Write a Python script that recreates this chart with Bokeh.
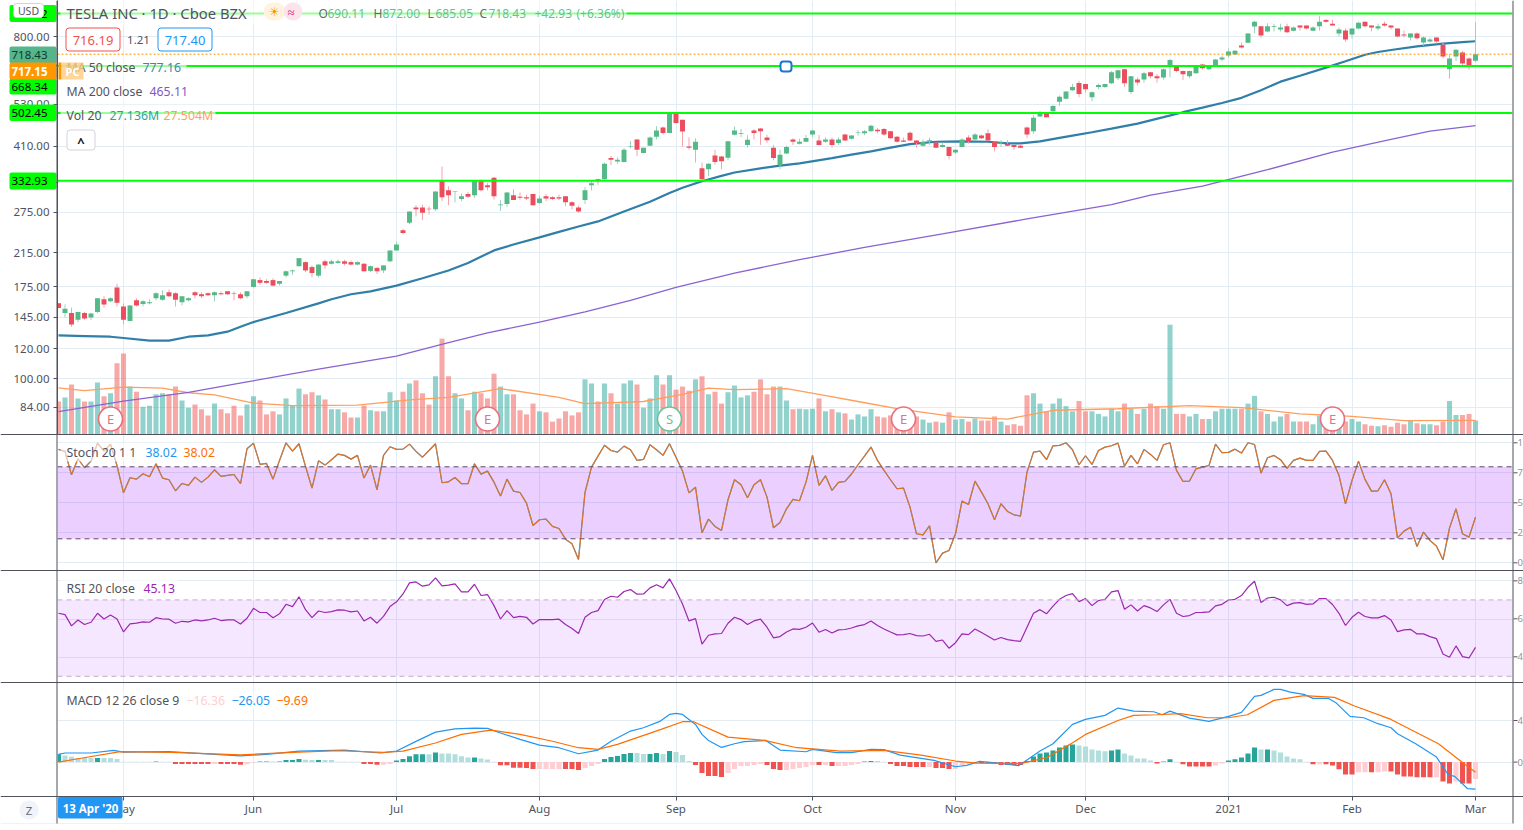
from bokeh.plotting import figure
from bokeh.layouts import column
from bokeh.embed import file_html
from bokeh.resources import INLINE
from bokeh.models import (Range1d, LinearScale, FixedTicker, Grid, LinearAxis, LogAxis, Span, Label,
                          BoxAnnotation, ColumnDataSource, NumeralTickFormatter)
from bokeh.core.properties import value

FONT = "Noto Sans"
first_bar = 4

open_ = [158,149,149,143,149,145,150,162,160,174,
 155,142,161,157.5,158,163,161.5,169,168,159,
 161,169,167,168,166,168,170,168,167,165,
 174.5,182,181,182,178,187,192,198,203,197,
 187,204,201,202,204,203,200,201,192.5,196,
 193,204,218,246.5,258,283,283,281,280,334,
 314,311,298,307,305,332,324,339,287,289,
 305,302,301,307,291,303,301,301,303,292,
 283,296,324,336,336,382,374,373,410,428,
 394,412,435,460,445,503,482,410,402,359,
 357,388,386,383,440,442,414,452,457,433,
 407,366,393,428,417,422,441,425,422,428,
 419,441,430,446,444,450,454,456,450,435,
 425,446,425,412,423,420,409,409,395,409,
 433,428,438,444,422,418,417,414,412,460,
 450,492,500,508,538,548,577,603,599,553,
 589,589,602,621,656,571,616,616,644,628,
 624,668,668,649,628,640,675,656,668,696,
 713,717,757,770,850,851,825,848,835,851,
 829,855,855,829,851,885,865,815,830,810,
 840,875,855,840,865,855,840,810,795,815,
 771,776,795,761,656,708,726,700,690.11]
high = [158,157,154,150,150,149,163,165,164,178,
 158,156.5,163,161,162,169,171,172,169,165,
 164,170,169,169,170,170,170,170,169,170,
 183,185,183,184,181,193,194,208,204,199,
 201,206,206,206,206,205,204,202,199,197,
 199,218,230,248.5,276,287,288,285,312,363,
 322,312,308,311,332,335,328,341,296,311,
 316,310,306,307,304,307,303,306,303,294,
 286,320,333,337,372,387,384,406,424,429,
 407,436,464,463,505,505,482,433,431,372,
 371,402,387,423,463,456,439,456,459,440,
 414,402,412,431,430,440,453,440,433,433,
 433,443,439,453,453,468,459,459,451,437,
 433,449,426,428,433,421,420,410,403,431,
 439,444,441,455,423,426,426,415,415,463,
 496,509,501,527,559,574,600,611,600,573,
 601,600,649,653,657,629,624,646,645,637,
 659,699,669,650,650,670,678,670,697,712,
 744,737,771,817,880,853,867,865,865,865,
 851,856,856,851,905,890,885,845,840,841,
 875,876,856,865,876,856,841,830,816,820,
 800,795,796,769,718,739,734,704,872]
low = [153.5,145,137,141,143,143,149,154,159,155,
 139,142,155,155,157,161,160.5,164,155,156,
 160,163,163,165,160,166,166,161,162,163,
 174,177,178,175,176,185,188,198,191,185,
 185,195,200,201,199,199,199,192,191,189,
 190,203,218,240.5,256,268,262,271,277,294,
 287,292,294,300,300,312,314,297,277,284,
 296,297,296,286,289,294,296,296,285,280,
 274,289,314,325,335,366,369,372,405,387,
 394,412,428,441,445,471,409,402,372,332,
 342,367,357,377,438,434,407,428,414,419,
 377,357,392,414,415,421,434,412,419,407,
 414,424,428,438,439,449,444,438,430,420,
 421,424,407,409,414,406,407,379,392,408,
 417,426,429,424,398,409,410,402,406,432,
 443,491,489,503,525,545,575,553,569,540,
 581,585,599,614,589,564,594,604,621,604,
 616,624,644,614,621,638,654,654,667,688,
 704,716,743,769,816,794,820,825,825,816,
 825,829,835,828,829,870,853,800,775,791,
 835,846,825,830,850,835,795,795,781,786,
 757,771,766,699,619,689,671,654,685.05]
close = [153.5,153,139,150,144,148.5,163,157,163,158.5,
 143,156,156,160,159,168,166,165,161.5,165,
 163,166,165,166,169,167,167,167.5,163,170,
 183,179,179,176,181,192,193,208,193,190,
 200,199,204,204,201,200,203,192,198,192,
 199,218,226,242.5,276,280,274,280,312,301,
 305,312,303,302,332,314,320,303,288,310,
 296,300,299,287,299,299,298,299,292,286,
 276,314,328,332,369,378,378,402,411,402,
 407,433,452,445,500,473,449,407,422,336,
 369,373,375,423,452,444,427,445,450,426,
 382,390,409,422,422,432,452,414,428,414,
 428,425,438,447,450,465,450,441,431,422,
 422,425,419,422,426,407,414,387,402,428,
 422,441,431,425,409,420,412,409,407,441,
 488,500,490,524,555,573,589,564,581,570,
 596,599,644,652,602,628,605,640,628,621,
 656,694,649,636,649,668,660,668,696,704,
 730,734,748,815,875,805,851,851,845,821,
 845,845,840,845,875,875,855,835,786,840,
 870,851,845,851,855,845,800,805,815,791,
 795,786,776,708,700,738,679,671,718.43]
volume_m = [64,72,97,70,64,64,101,74,80,138,
 157,93,83,54,56,78,80,78,93,66,
 52,58,49,37,60,49,41,56,37,58,
 74,66,39,45,39,70,56,89,78,82,
 76,68,49,49,43,33,33,56,47,45,
 45,82,66,83,99,105,80,58,113,186,
 113,80,70,47,83,80,70,118,93,78,
 78,47,39,60,45,43,25,31,45,37,
 43,107,99,64,99,80,60,99,105,97,
 52,70,115,97,115,87,93,85,107,113,
 78,83,60,82,95,72,76,83,107,78,
 93,93,66,49,50,49,50,70,45,49,
 43,41,29,39,35,49,35,33,37,37,
 33,37,35,29,23,25,23,43,29,30,
 25,31,27,27,35,25,18,20,17,76,
 80,60,45,60,70,55,45,65,45,45,
 40,35,50,45,60,50,40,50,60,55,
 50,213,40,40,35,40,30,30,45,50,
 50,50,50,60,75,45,40,25,35,40,
 25,25,25,20,37,27,20,25,25,30,
 25,20,17,16,18,15,23,20,27,22,
 20,20,18,25,65,38,38,40,27.136]

vol_ma_idx = [4,8,14,20,24,28,34,40,50,58,64,72,81,85,94,100,104,108,116,121,127,133,142,150,157,167,178,186,195,203,211,222]
vol_ma = [90.6,85,92,90,81,77,61,56,57,67,72,89,72,60,64,78,90,87,89,78,64,50,34,30,47,50,56,52,40,35,27,27.504]

ma50_idx = [4,8,12,14,18,21,24,27,30,32,34,39,44,46,49,52,56,60,64,67,71,74,78,81,84,87,91,95,98,100,103,106,108,112,115,118,123,126,129,132,135,139,143,147,150,152,155,158,160,163,166,170,174,177,180,183,186,189,192,195,199,202,205,207,209,213,217,220,222]
ma50 = [130,129.5,129,128,126,126,129,130,133,137,141,149,158,162,167,170,176,184,193,202,218,226,236,244,252,260,276,293,309,319,332,343,350,359,365,370,382,390,398,407,416,422,423,422,418,418,423,432,438,447,457,471,490,505,519,534,551,577,608,630,662,688,716,728,737,753,766,773,777.16]
ma200_idx = [4,14,24,33,44,56,64,70,78,85,92,99,108,118,128,140,153,166,172,180,190,200,209,215,222]
ma200 = [81.8,87.2,92,98,106,114.7,124.5,132,141,150,161,174,190,206,222,241,264,288,305,322,356,396,428,450,465.11]

stoch = [94.5,92.8,73.3,86.7,79.2,84.7,99.7,93,98.9,81,
 58.3,70.9,69.7,74.2,71.7,82.5,70.6,69.2,60,66.1,
 64.5,71.4,67,71.4,77.5,72,72.8,73.6,65.9,95,
 99.7,82,82.8,69.7,85.3,100,93,99.2,80.3,62.2,
 85,81.4,85.9,90.6,89.5,86.4,89.5,70.6,81.4,60.8,
 89.5,96.7,94.5,94.7,98.9,92.8,88,93.6,99.2,66.7,
 67.5,71.1,65.9,65.9,82.5,73.9,76.4,67.2,55.6,69.7,
 59.7,58.6,49.7,31.1,35.9,36.4,30.3,28.6,19.7,15.9,
 2.8,58.6,79.7,88.9,98,93.6,92.2,97.2,94.2,85.3,
 86.1,98.4,94.2,89.5,99.2,88,76.4,58.3,63,25,
 36.4,30.3,27,52.5,69.2,65,54.2,65,69.2,54.7,
 29.2,33.6,45,52.8,51.7,67.2,89.5,64.5,72.5,60.3,
 67,67.8,74,81.7,88.9,96.4,85.3,77,69.2,61.7,
 62.2,46.4,24.2,23.3,30.9,0,8.1,10.3,24.2,51.4,
 48.6,68.1,58.9,49.2,35.9,49.2,42.8,40,38.9,75.6,
 92.2,93,85.9,97.5,97.8,100,94.2,81.7,89.2,82,
 93.6,96.4,97.5,99.7,80.6,89.5,82.5,94.5,90.3,85.3,
 98.4,100,77,67.8,68.1,78.3,79.7,81.1,98.9,91.7,
 92,94.7,91.4,100,98.6,74.7,87.5,89.5,85.9,78.6,
 85.3,87.2,85.3,85.3,92.8,93,85.3,72.8,49.2,68.6,
 84.7,69.5,59.7,60,69.2,57.5,20.8,26.4,29.7,13.6,
 25.6,18.6,13.9,2.5,28.9,45,24.2,21.4,38.02]
rsi = [63,62.3,56.4,59.5,57.1,58.3,63,60,62.1,60,
 53.2,57.4,57.8,58.5,58.3,60.7,60,59.9,57.8,58.8,
 58.5,59.5,59,59.5,60.4,59.2,59.5,59.5,57.4,60.4,
 65.6,63.4,63.4,60.7,62.7,67.7,66.5,71.6,64.9,60.7,
 64.2,63.4,63.9,64.8,64.6,63.7,64.2,59,60.9,57.8,
 61.4,66.5,69,73.1,78.9,79.4,77.2,77.9,81.5,77.3,
 77.7,78.4,74.2,74.2,78.2,72.3,72.8,67,60,64.4,
 60.7,61.4,60.9,57.4,59.7,59.7,59.7,59.9,57.1,55,
 52.4,60.9,63.4,64.4,70.2,71.9,71.4,74.4,75.4,73,
 73.1,76.3,77.9,76.3,81,74.9,67.9,59,60.2,46.8,
 51.5,52.2,52.4,57.8,60.9,59.7,57.1,59,59.9,55.7,
 50.1,50.8,53.2,54.8,54.6,55.7,57.9,53.1,54.5,52.7,
 54.3,54.5,55.3,56.4,57.1,59,56.6,54.8,53.2,51.7,
 51.8,52.4,51.3,51.1,52,48.3,49,44.7,47.6,52.2,
 51.8,54.8,52.9,51,49,50.3,49.2,48.7,48.3,55.7,
 63,64.9,62.7,66.7,70.3,72.3,73.3,69.1,70.7,67,
 69.7,70.3,74.2,74.9,65.1,67.4,64.2,67,65.8,63.9,
 67.4,70.3,63,61.3,61.8,63.4,63.5,63.7,66.9,67.7,
 70,70.3,72.3,76.6,79.8,68.6,71,71.4,70,67,
 68.3,68.6,67.7,67.9,70.7,70.7,67.6,63,56.6,60.9,
 63.5,61.3,60.6,60.6,61.8,59.5,53.4,54.3,54.6,52.2,
 52.2,50.8,49.7,41.7,40,45.9,40.3,39.6,45.13]

macd_hist = [7.4,6.4,5.1,3.8,3.8,3.8,3.8,3.8,3.8,2.9,
 .4,.4,.4,.4,.4,.6,.4,.4,-1.9,-1.9,
 -1.9,-1.9,-1.9,-1.9,-1.9,-1.9,-1.9,-1.9,-2.5,-2.2,
 -.6,.5,.5,.5,.5,1.9,1.9,2.9,2.2,1.9,
 1.9,1.9,1.9,.4,.4,.4,.4,-1.9,-1.9,-2.5,
 -2.5,-1.9,1.6,2.9,5.5,7.4,7.4,7.4,9.3,8.3,
 8.3,7.4,5.5,4.5,4.5,3.5,2.5,.4,-3,-3,
 -5.5,-5.5,-5.8,-6.7,-6.7,-6.7,-6.7,-6.7,-6.7,-6.7,
 -7.7,-5.8,-3.8,-1.9,2.9,4.8,5.8,7.7,8.7,8.7,
 7.7,7.7,8.7,7.7,10.6,9.6,6.7,1,-2.9,-10.6,
 -13.5,-13.5,-14.4,-10.6,-6.7,-3.8,-3.8,-2.9,-1.9,-2.9,
 -6.7,-7.7,-7.7,-6.7,-5.8,-4.8,-2.9,-2.9,-2.9,-3.8,
 -3.8,-3.8,-2.9,-1.9,.5,1,1,.3,-1.9,-3.8,
 -3.8,-4.8,-4.8,-4.8,-4.8,-5.8,-5.8,-6.7,-6.7,-2.9,
 -1.9,-1,-1,-1,-1,-2.9,-2.9,-2.9,-2.9,1,
 5.4,8.3,9.3,11.2,14.1,16,17,16,15,12.2,
 11.2,10.3,11.2,12.2,8.3,6.4,3.5,3.5,1.6,-1.3,
 .6,2.6,.3,-2.2,-4.2,-4.2,-4.2,-4.2,-3.2,-1.3,
 1.6,2.6,4.5,8.3,14.1,12.2,12.2,11.2,9.3,5.4,
 3.5,2.6,.3,-2.2,-2.2,-2.2,-3.2,-7,-11.9,-11.9,
 -9.9,-9.9,-9.9,-9.9,-9,-9,-11.9,-13.8,-13.8,-14.7,
 -14.7,-14.7,-14.7,-18.6,-20.5,-18.6,-20.5,-20.5,-16.36]
macd_hist_kind = ("GgggggGggg" "gggggGggRR" "RRRRrRRRRr" "rGGgGGGGgg" "GggggggRRR"
 "rrGGGGGgGg" "ggggGgggRR" "RRRRrrrrRR" "RrrrGGGGGg" "gGGgGgggRR"
 "RRRrrrrrrR" "RRrrrrrRrR" "rrrrGGggRR" "RRRRrRRRrr" "rrRRRRRRRG"
 "GGGGGGGggg" "ggGGgggggR" "GGgRRRRRrr" "GGGGGgGggg" "gggRrRRRRR"
 "rrRrrRRRRR" "RRrRRrRRr")

macd_idx = [4,5,9,12.5,14,21,32,36,41,48,53.5,56,59,62,65,68,70,72,75,78,81,84,87,89,92,94,96.6,98,99,100,102,103,104,106,108,109.5,112.8,115,119,120,123.7,126,129,131,133.5,138.7,142,143.7,145.7,149,151.7,153.5,155,157,160,162,165,167,169.4,172.5,173.8,175,178,181,184,186,188,189,191,192,193.5,195.6,197,199.4,200.6,202.7,204.8,207,209,210,212.8,216,217.8,218.8,220.8,222]
macd_line = [7.4,8.7,8.7,11.2,9.6,10,6,7.4,10.6,11.5,8.7,10.6,19.9,28.8,32,32.7,32.4,27.9,21.8,16.3,13.8,8,11.5,20,29.8,33,39.4,45.8,46.8,45.8,36.2,26.6,20.8,14.1,17.6,19.6,20.8,11.5,9.9,12.2,9,9,12.2,11.9,6.7,1.6,-4.5,-3.2,.6,-1.3,-3.5,4.2,10.6,17.6,36.2,41,44.9,51.9,49,48.4,45.5,49,42.3,39.1,43.9,47.8,63.1,64.1,69.9,69.9,67.3,65.1,61.2,61.2,56.7,43.9,42.6,36.9,33,27.2,17.6,4.8,-12.2,-13.8,-25.6,-26.05]
signal_idx = [4,7,13.5,21.5,32,41,47,54,57,62,66,70.5,75,80,84,87,90,96.7,100,101.7,107,112.6,117.6,124.3,131,136.7,142,145.3,152,156,159.6,162,167,169.4,173,176.6,180.7,184,186.9,191,195.6,200.3,203.3,209,216.3,219.9,222]
signal_line = [0,3.2,10,9.3,7,9.6,10.9,9.3,10.6,18.3,26.6,30.8,26.6,20,13.8,12.2,17,31.4,38.8,38.8,24,20.8,13.8,10.6,11.2,6.7,1,-1,-1.6,4.2,17,26.6,40,44.9,45.5,46.5,42.6,42.6,45.5,59.3,63.8,62.2,54.2,41,17.6,0,-9.69]

month_idx = [14,34,56,78,99,120,142,162,184,203,222]
month_labels = ["May","Jun","Jul","Aug","Sep","Oct","Nov","Dec","2021","Feb","Mar"]
price_ticks = [1000,800,670,530,410,330,275,215,175,145,120,100,84]
drawn_levels = [920.12,668.34,502.45,332.93]
last_close = 718.43
earn_idx = [12,70,98,134,200]
earn_letters = ["E","E","S","E","E"]
earn_colors = ["#e8707f","#e8707f","#6cc29a","#e8707f","#e8707f"]
earn_level = 78.2

n = len(close)
idx = [first_bar + k for k in range(n)]
GRID = "#e3ecf2"
EDGE = "#50535e"
TXT = "#50535e"
L, R = 57, 1512
W, H = 1523, 824
xr = Range1d((L-32)/6.5, (R-32)/6.5)

def make_fig(height, ystart, yend, bottom=0, **kw):
    f = figure(width=W, height=height, x_range=xr, y_range=Range1d(ystart, yend), output_backend="svg",
               toolbar_location=None, x_axis_location=None, y_axis_location=None, min_border_left=L,
               min_border_right=W-R, min_border_top=0, min_border_bottom=bottom,
               background_fill_color="white", border_fill_color="white", outline_line_color=None, **kw)
    f.grid.visible = False
    f.add_layout(Grid(dimension=0, ticker=FixedTicker(ticks=month_idx), grid_line_color=GRID, grid_line_width=1))
    return f

# ---- main pane
main = make_fig(434, 71.2, 995.7, y_axis_type="log")
main.add_layout(Grid(dimension=1, ticker=FixedTicker(ticks=price_ticks), grid_line_color=GRID, grid_line_width=1))
ax = LogAxis(ticker=FixedTicker(ticks=price_ticks), formatter=NumeralTickFormatter(format="0.00"),
             major_tick_out=4, major_tick_in=0, minor_tick_out=0, minor_tick_in=0,
             major_tick_line_color=EDGE, axis_line_color=EDGE, major_label_text_color=TXT,
             major_label_text_font=FONT, major_label_text_font_size="11.5px", major_label_standoff=4)
main.add_layout(ax, "left")
main.extra_y_ranges["vol"] = Range1d(0, 842)
main.extra_y_scales["vol"] = LinearScale()

up = [c >= o for o, c in zip(open_, close)]
src = ColumnDataSource(dict(x=idx, o=open_, h=high, l=low, c=close, v=volume_m,
    body=["#53b987" if u else "#eb4d5c" for u in up],
    wick=["#9fd1bb" if u else "#f5a3ad" for u in up],
    vc=["#26a69a" if u else "#ef5350" for u in up]))
main.vbar("x", 0.78, 0, "v", source=src, fill_color="vc", fill_alpha=0.5, line_color=None, y_range_name="vol")
main.line(vol_ma_idx, vol_ma, line_color="#ff9e5c", line_width=1.3, y_range_name="vol")
main.line(ma200_idx, ma200, line_color="#8a63d2", line_width=1.3)
main.line(ma50_idx, ma50, line_color="#2f7fa8", line_width=2.2)
main.segment("x", "h", "x", "l", source=src, line_color="wick", line_width=1)
main.vbar("x", 0.76, "o", "c", source=src, fill_color="body", line_color=None)
main.scatter(earn_idx, [earn_level]*5, size=24, fill_color="white", line_color=earn_colors, line_width=1.6)
main.text(earn_idx, [earn_level]*5, text=earn_letters, text_color=earn_colors, text_align="center",
          text_baseline="middle", text_font=value(FONT), text_font_size="13px")
main.add_layout(Span(location=last_close, dimension="width", line_color="#ff9800", line_width=1, line_dash="2 2"))
for lv in drawn_levels:
    main.add_layout(Span(location=lv, dimension="width", line_color="#00ff00", line_width=2))

# ---- stochastic
st = make_fig(136, -6.4, 106.9)
stoch_ticks = [0,25,50,75,100]
st.add_layout(Grid(dimension=1, ticker=FixedTicker(ticks=stoch_ticks), grid_line_color=GRID, grid_line_width=1))
st.add_layout(BoxAnnotation(bottom=20, top=80, fill_color="#9915ff", fill_alpha=0.2, line_color=None, level="underlay"))
for lv in (20, 80):
    st.add_layout(Span(location=lv, dimension="width", line_color="#5d4a6e", line_width=1, line_dash="5 4"))
st.line(idx, stoch, line_color="#2196f3", line_width=1.2)
st.line(idx, stoch, line_color="#ff6d00", line_width=1.2, line_alpha=0.85)

# ---- RSI
rs = make_fig(112, 26.75, 85.4)
rsi_ticks = [40,60,80]
rs.add_layout(Grid(dimension=1, ticker=FixedTicker(ticks=rsi_ticks), grid_line_color=GRID, grid_line_width=1))
rs.add_layout(BoxAnnotation(bottom=30, top=70, fill_color="#9915ff", fill_alpha=0.1, line_color=None, level="underlay"))
for lv in (30, 70):
    rs.add_layout(Span(location=lv, dimension="width", line_color="#c3aacb", line_width=1, line_dash="5 4"))
rs.line(idx, rsi, line_color="#9c27b0", line_width=1.2)

# ---- MACD with the time axis below it
md = make_fig(114+28, -33.1, 76.5, bottom=28)
macd_ticks = [0,40]
md.add_layout(Grid(dimension=1, ticker=FixedTicker(ticks=macd_ticks), grid_line_color=GRID, grid_line_width=1))
kinds = {"G":"#26a69a","g":"#b2dfdb","R":"#ef5350","r":"#ffcdd2"}
md.vbar(idx, 0.78, 0, macd_hist, fill_color=[kinds[k] for k in macd_hist_kind], line_color=None)
md.line(macd_idx, macd_line, line_color="#2196f3", line_width=1.2)
md.line(signal_idx, signal_line, line_color="#ff6d00", line_width=1.2)
md.add_layout(LinearAxis(ticker=FixedTicker(ticks=month_idx),
                         major_label_overrides=dict(zip(month_idx, month_labels)),
                         axis_line_color=None, major_tick_out=4, major_tick_in=0, minor_tick_out=0, minor_tick_in=0,
                         major_tick_line_color=EDGE, major_label_text_color=TXT, major_label_text_font=FONT,
                         major_label_text_font_size="11.5px", major_label_standoff=0), "below")

# ---- transparent overlay, in page pixels, for the legends, badges and pane frames
ov = figure(width=W, height=H, x_range=Range1d(0, W), y_range=Range1d(H, 0), output_backend="svg",
            toolbar_location=None, x_axis_location=None, y_axis_location=None, min_border=0,
            min_border_left=0, min_border_right=0, min_border_top=0, min_border_bottom=0,
            background_fill_color=None, border_fill_color=None, outline_line_color=None,
            frame_align=False, margin=(-H, 0, 0, 0))
ov.grid.visible = False

def tx(x, y, s, color=TXT, size=12.3, style="normal", align="left", alpha=1.0):
    ov.add_layout(Label(x=x, y=y, text=s, text_color=color, text_font=FONT, text_font_size=f"{size}px",
                        text_font_style=style, text_alpha=alpha, text_align=align, text_baseline="middle"))

def bx(x0, y0, x1, y1, fill="white", alpha=1.0, line=None, radius=0, lw=1):
    ov.add_layout(BoxAnnotation(left=x0, right=x1, top=y0, bottom=y1, fill_color=fill, fill_alpha=alpha,
                                line_color=line, line_alpha=1.0, line_width=lw, border_radius=radius))

bx(60, 2, 626, 24, alpha=0.6)
bx(60, 56, 186, 78, alpha=0.6)
bx(60, 80, 190, 102, alpha=0.6)
bx(60, 104, 215, 126, alpha=0.6)
tx(66, 12, "TESLA INC · 1D · Cboe BZX", size=14.8)
bx(263, 2, 285, 20, fill="#fff3e0", radius=9)
bx(283, 2, 302, 20, fill="#fce4ec", radius=9)
tx(268, 11, "☀", color="#ff9800", size=12)
tx(287, 11, "≈", color="#d81b60", size=13)
for xp, s, c in [(318,"O",TXT),(327,"690.11","#53b987"),(373,"H",TXT),(382,"872.00","#53b987"),
                 (427,"L",TXT),(435,"685.05","#53b987"),(479,"C",TXT),(488,"718.43","#53b987"),
                 (534,"+42.93","#53b987"),(576,"(+6.36%)","#53b987")]:
    tx(xp, 13, s, color=c, alpha=0.9, size=12)
bx(65.5, 27.5, 119.5, 50.5, line="#ef5350", radius=3)
tx(92.5, 39.5, "716.19", color="#ef5350", size=13, align="center")
tx(138, 39.5, "1.21", size=11.5, align="center")
bx(157.5, 27.5, 211.5, 50.5, line="#2196f3", radius=3)
tx(184.5, 39.5, "717.40", color="#2196f3", size=13, align="center")
tx(66, 67, "MA 50 close")
tx(142, 67, "777.16", color="#3b85ab")
tx(66, 91, "MA 200 close")
tx(149, 91, "465.11", color="#7e57c2")
tx(66, 115, "Vol 20")
tx(109, 115, "27.136M", color="#26a69a")
tx(163, 115, "27.504M", color="#ff9e62")
bx(66.5, 129.5, 94.5, 149.5, line="#d1d4dc", radius=3)
tx(80.5, 141, "^", color="#131722", size=13, align="center", style="bold")

def badge(y0, y1, fill, s, color="#000000", style="normal"):
    bx(9, y0, 56, y1, fill=fill, radius=2)
    tx(47, (y0+y1)/2, s, color=color, size=11.5, align="right", style=style)
badge(4.5, 21.5, "#00ff00", "2")
badge(46, 63, "#56b58c", "718.43", color="#0e3a28")
badge(78, 94, "#00ff00", "668.34")
badge(62, 79, "#ff9800", "717.15", color="#ffffff", style="bold")
badge(104, 120.5, "#00ff00", "502.45")
badge(172, 189, "#00ff00", "332.93")
bx(13, 3, 43, 17, line="#d1d4dc", radius=3)
tx(28, 10, "USD", size=10.5, align="center")
bx(58, 62, 61, 79, fill="#ff9800")
bx(61, 62, 83, 79, fill="#ffcc80", alpha=0.8)
tx(72, 71, "PC", color="#ffffff", size=11, align="center", style="bold")
bx(780, 61, 791, 71, line="#1976d2", radius=3, lw=2)

bx(60, 442, 217, 461, alpha=0.6)
tx(66, 451.5, "Stoch 20 1 1")
tx(145, 451.5, "38.02", color="#2196f3")
tx(183, 451.5, "38.02", color="#ff6d00")
bx(60, 578, 178, 597, alpha=0.6)
tx(66, 587.5, "RSI 20 close")
tx(143, 587.5, "45.13", color="#9c27b0")
bx(60, 690, 320, 709, alpha=0.6)
tx(66, 699.5, "MACD 12 26 close 9")
tx(186, 699.5, "−16.36", color="#ffcdd2")
tx(231, 699.5, "−26.05", color="#2196f3")
tx(276, 699.5, "−9.69", color="#ff6d00")

# right price scale: the reference page cuts these labels after their first figure
for y, s in [(442.3,"1"),(472.3,"7"),(502.3,"5"),(532.3,"2"),(562.3,"0"),
             (580.3,"8"),(618.3,"6"),(656.3,"4"),(720,"4"),(761.6,"0")]:
    bx(1513, y-0.5, 1517, y+0.5, fill=EDGE)
    tx(1517, y, s, color="#8f929b", size=9.5)

bx(0, 823, 1512, 824, fill="#e0e3eb")
bx(57.5, 796, 122, 818, fill="#2196f3", radius=2)
tx(90, 808, "13 Apr '20", color="#ffffff", size=11.5, align="center", style="bold")
bx(19, 800, 38, 819, fill="#f0f3fa", radius=9)
tx(28.5, 809.5, "Z", color="#6a6d78", size=11.5, align="center")

bx(56, 0, 57, 823, fill=EDGE)
bx(1512, 0, 1513, 823, fill=EDGE)
for y in (434, 570, 682, 796):
    bx(0, y-0.5, W, y+0.5, fill=EDGE)

page = column(main, st, rs, md, ov, spacing=0)
open("out.html", "w").write(file_html(page, INLINE))
